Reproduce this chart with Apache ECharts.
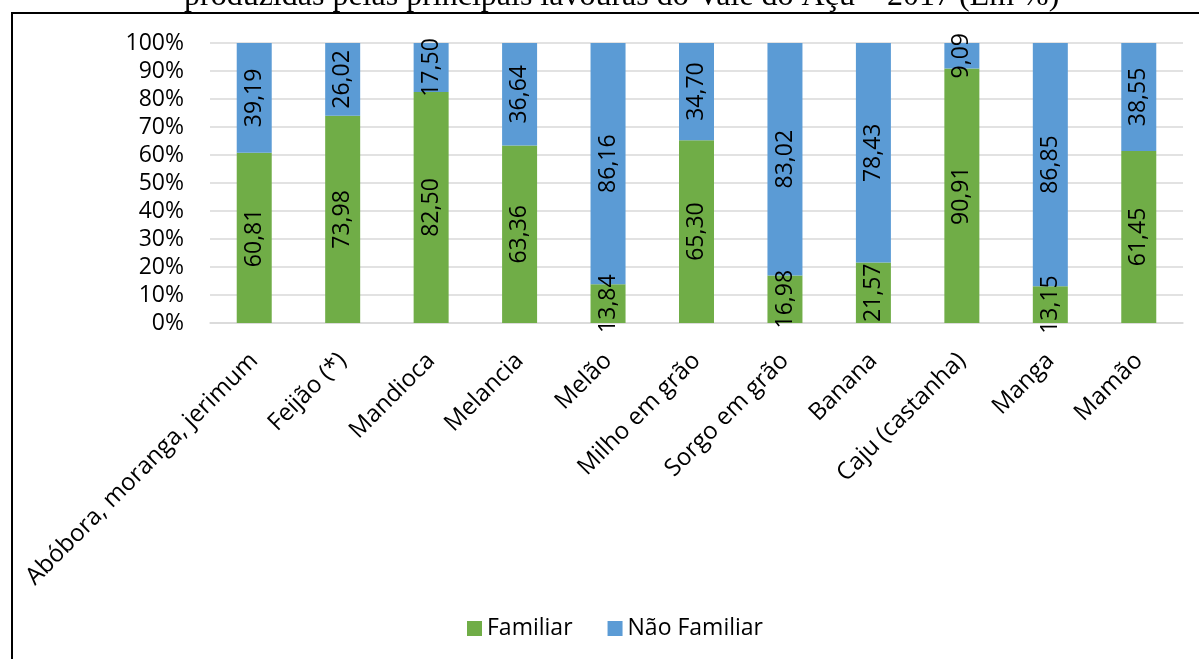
<!DOCTYPE html>
<html>
<head>
<meta charset="utf-8">
<script src="https://cdn.jsdelivr.net/npm/echarts@6/dist/echarts.min.js"></script>
<style>
  html, body { margin: 0; padding: 0; background: #fff; }
  #chart { width: 1199px; height: 659px; }
</style>
</head>
<body>
<div id="chart"></div>
<script>
// Crops of the Vale do Açu, 2017 — share of production by type of farming (%)
const crops = [
  'Abóbora, moranga, jerimum', 'Feijão (*)', 'Mandioca', 'Melancia', 'Melão',
  'Milho em grão', 'Sorgo em grão', 'Banana', 'Caju (castanha)', 'Manga', 'Mamão'
];
const familiar    = [60.81, 73.98, 82.50, 63.36, 13.84, 65.30, 16.98, 21.57, 90.91, 13.15, 61.45];
const naoFamiliar = [39.19, 26.02, 17.50, 36.64, 86.16, 34.70, 83.02, 78.43, 9.09, 86.85, 38.55];
const seriesNames = ['Familiar', 'Não Familiar'];
const titleLine = 'produzidas pelas principais lavouras do Vale do Açu – 2017 (Em %)';

const FONT = '"Open Sans", sans-serif';
const fmt = v => v.toFixed(2).replace('.', ',');

const chart = echarts.init(document.getElementById('chart'), null, { renderer: 'canvas' });

const barLabel = {
  show: true,
  position: 'inside',
  rotate: 90,
  color: '#000',
  fontFamily: FONT,
  fontSize: 23,
  formatter: p => fmt(p.value)
};

chart.setOption({
  animation: false,
  backgroundColor: '#fff',
  graphic: [
    {
      type: 'text',
      left: 184,
      top: -19,
      z: 1,
      style: {
        text: titleLine,
        fontFamily: '"Liberation Serif", "Times New Roman", serif',
        fontSize: 32,
        fill: '#000'
      }
    },
    {
      type: 'rect',
      z: 10,
      shape: { x: 12, y: 13, width: 1300, height: 800 },
      style: { fill: 'none', stroke: '#000', lineWidth: 2 }
    }
  ],
  grid: { left: 210, right: 16, top: 43, height: 280 },
  legend: {
    data: seriesNames,
    left: 462,
    top: 612,
    itemWidth: 15,
    itemHeight: 15,
    itemGap: 35,
    icon: 'rect',
    textStyle: { fontFamily: FONT, fontSize: 23, color: '#000' }
  },
  xAxis: {
    type: 'category',
    data: crops,
    axisLine: { lineStyle: { color: '#D9D9D9', width: 1.5 } },
    axisTick: { show: false },
    axisLabel: {
      interval: 0,
      rotate: 45,
      margin: 34,
      padding: [24, 0, 0, 0],
      fontFamily: FONT,
      fontSize: 24,
      color: '#000'
    }
  },
  yAxis: {
    type: 'value',
    min: 0,
    max: 100,
    interval: 10,
    axisLine: { show: false },
    axisTick: { show: false },
    splitLine: { lineStyle: { color: '#D9D9D9', width: 1.5 } },
    axisLabel: {
      margin: 26,
      fontFamily: FONT,
      fontSize: 23,
      color: '#000',
      formatter: '{value}%'
    }
  },
  series: [
    {
      name: seriesNames[0],
      type: 'bar',
      stack: 'total',
      barWidth: 35,
      itemStyle: { color: '#70AD47' },
      label: barLabel,
      data: familiar
    },
    {
      name: seriesNames[1],
      type: 'bar',
      stack: 'total',
      barWidth: 35,
      itemStyle: { color: '#5B9BD5' },
      label: barLabel,
      data: naoFamiliar
    }
  ]
});
</script>
</body>
</html>
